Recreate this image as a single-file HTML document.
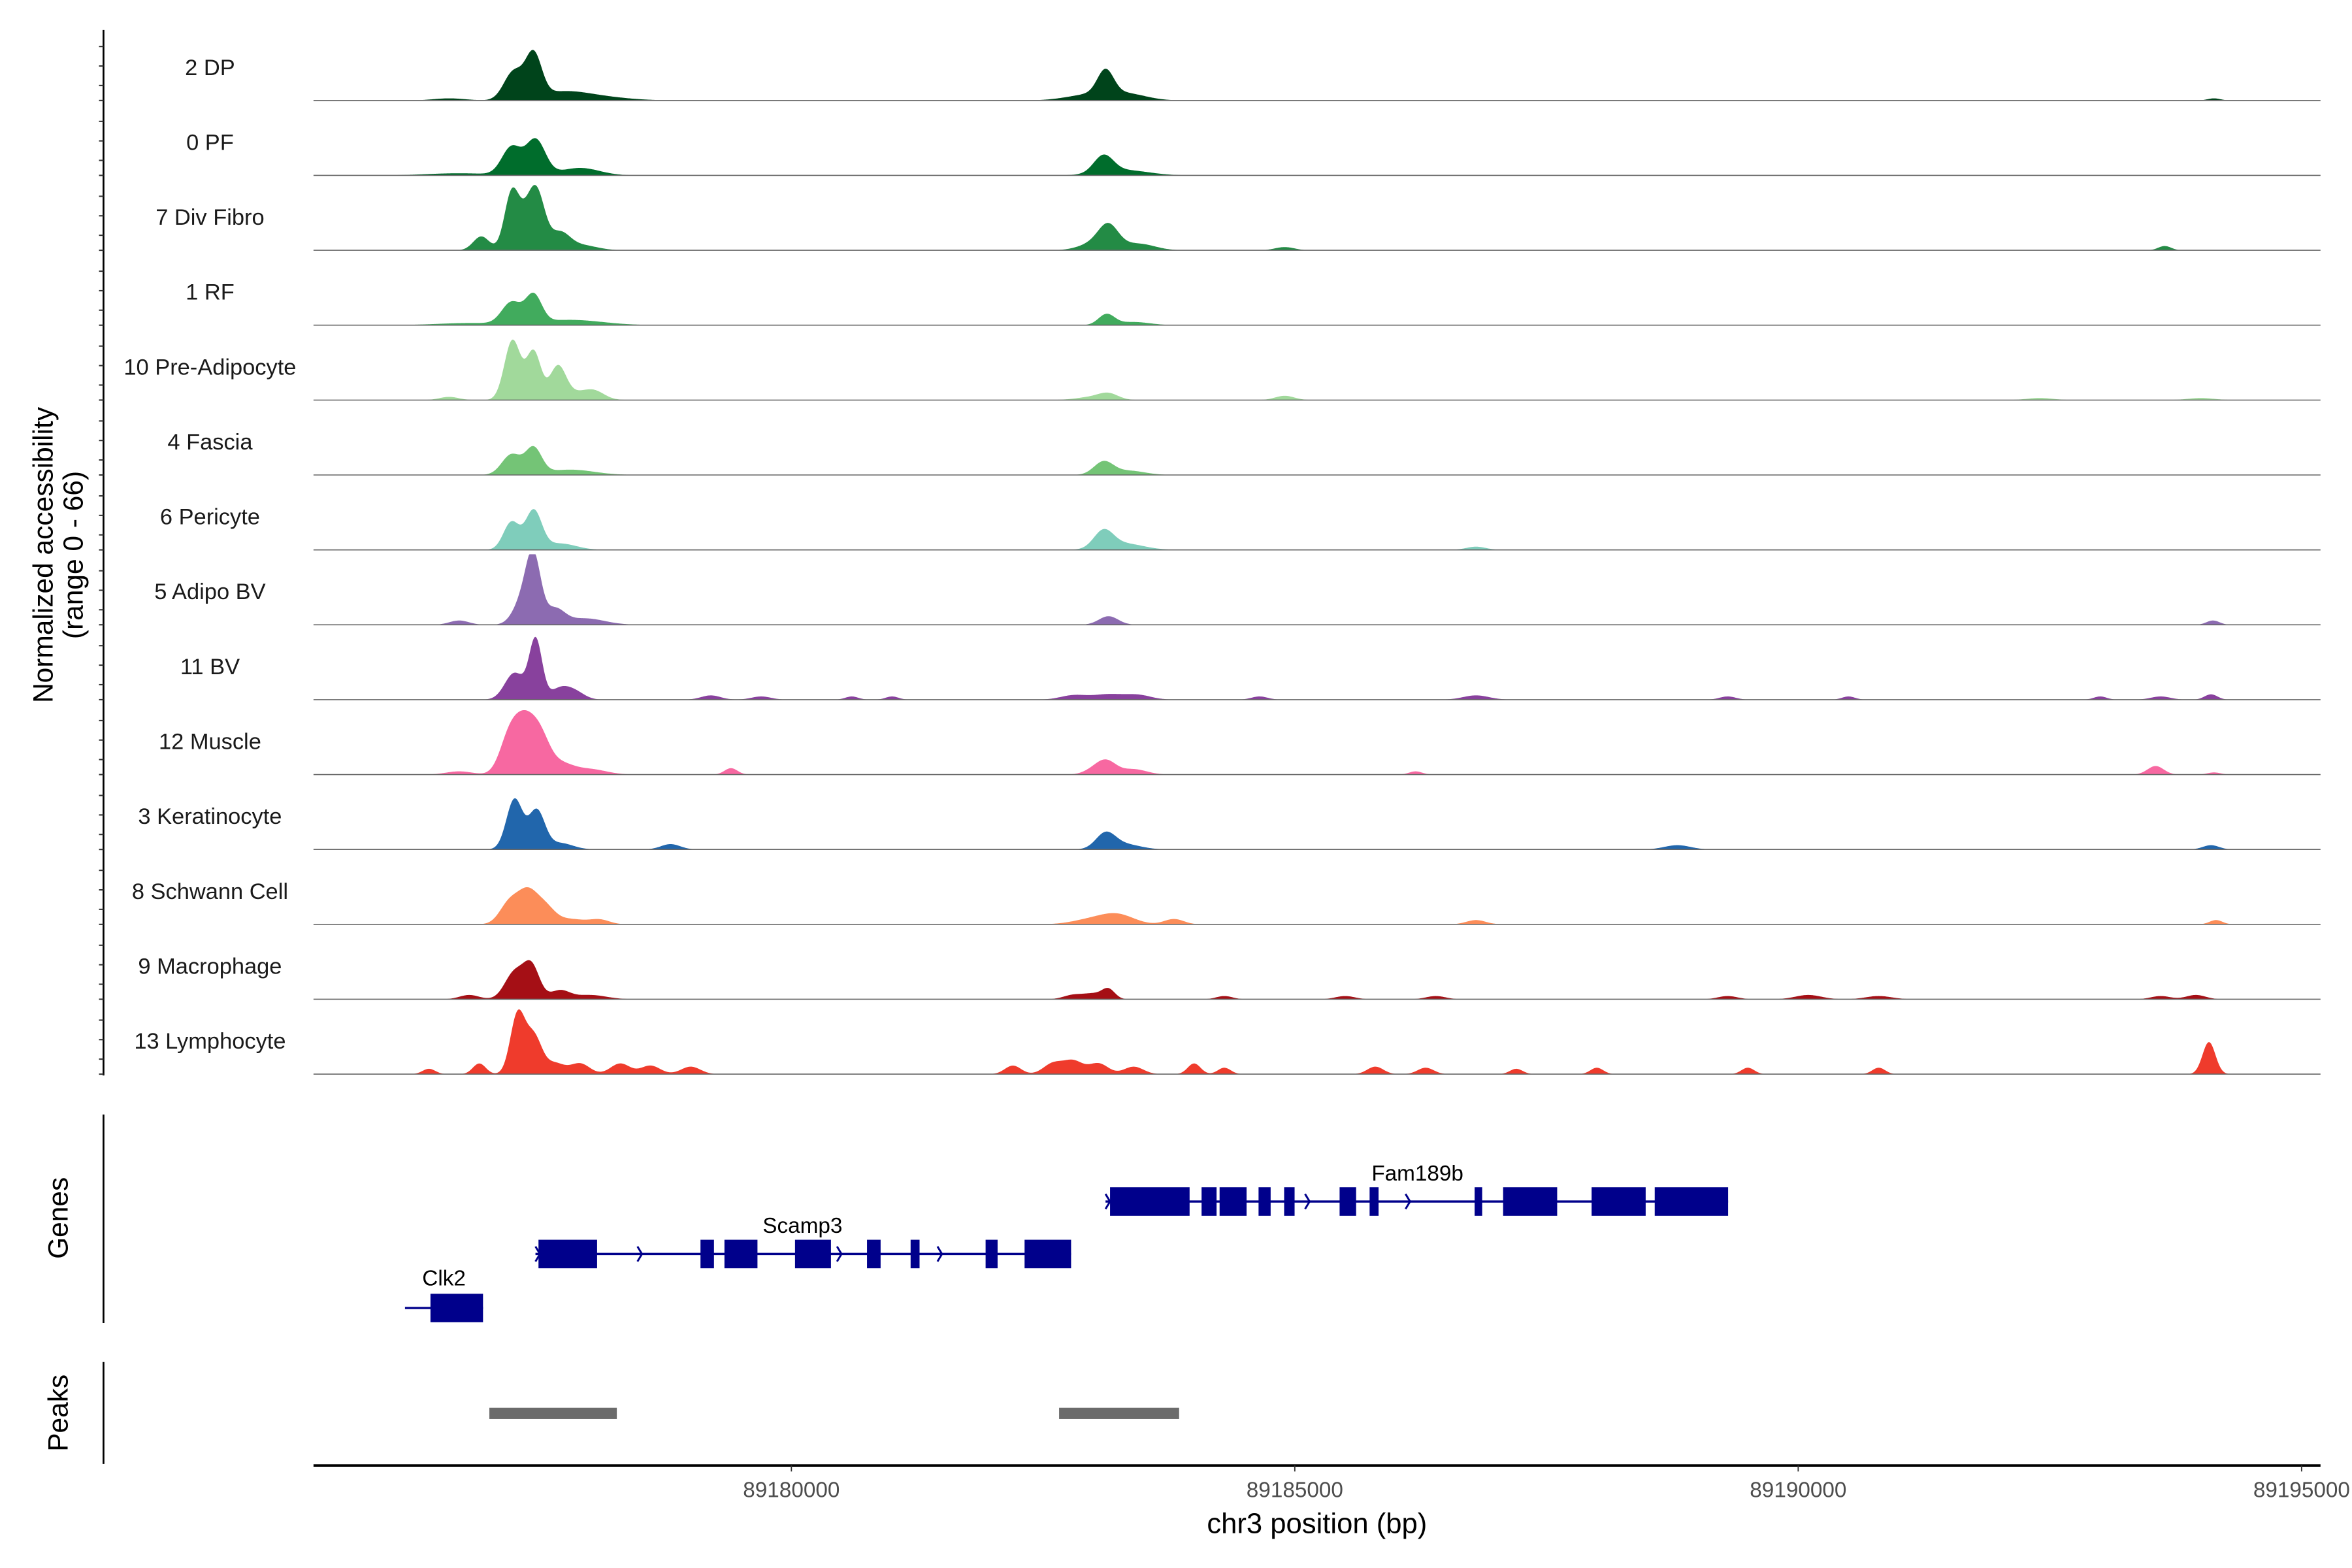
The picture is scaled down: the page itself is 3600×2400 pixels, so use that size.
<!DOCTYPE html>
<html><head><meta charset="utf-8"><style>
html,body{margin:0;padding:0;background:#fff}
svg{display:block;font-family:"Liberation Sans",Arial,sans-serif}
</style></head>
<body>
<svg id="chart" xmlns="http://www.w3.org/2000/svg" width="3600" height="2400" viewBox="0 0 1568 1045.33">
<g id="tracks"></g>
<g id="genes"></g>
<g id="peaks"></g>
<g id="axes"></g>
</svg>
<script>
const BASE = 89180000;
const trackNames = ["2 DP","0 PF","7 Div Fibro","1 RF","10 Pre-Adipocyte","4 Fascia","6 Pericyte","5 Adipo BV","11 BV","12 Muscle","3 Keratinocyte","8 Schwann Cell","9 Macrophage","13 Lymphocyte"];
const trackColors = ["#00441b","#006d2c","#238b45","#41ab5d","#a1d99b","#74c476","#7fcdbb","#8c6bb1","#88419d","#f768a1","#2166ac","#fc8d59","#a50f15","#ef3b2c"];
// peaks: [offset bp from 89180000, value (0-66), width bp]
const trackPeaks = [
 [[-3400,2,100],[-2760,26,60],[-2560,40,50],[-2300,6,150],[-2000,4,200],[3000,6,150],[3120,22,50],[3350,5,120],[14130,2,40]],
 [[-3300,2,200],[-2780,26,60],[-2540,33,60],[-2100,7,120],[3100,16,60],[3300,5,150]],
 [[-3080,13,50],[-2780,50,45],[-2620,30,60],[-2520,40,50],[-2300,15,60],[-2100,5,100],[3050,8,100],[3150,18,60],[3450,6,100],[4900,3,60],[13640,4,40]],
 [[-3200,2,200],[-2780,20,60],[-2560,26,50],[-2200,5,200],[3130,10,50],[3400,3,100]],
 [[-3400,3,60],[-2770,56,50],[-2560,45,45],[-2320,30,50],[-2100,7,100],[-1950,5,60],[3000,3,100],[3150,5,60],[4900,4,60],[12400,2,80],[14000,2,80]],
 [[-2780,19,60],[-2560,24,50],[-2200,5,150],[3100,12,60],[3350,4,100]],
 [[-2780,26,50],[-2560,36,50],[-2300,6,100],[3100,16,60],[3300,6,120],[6800,3,60]],
 [[-3300,4,60],[-2660,24,60],[-2560,55,45],[-2350,14,60],[-2050,6,120],[3150,8,60],[14120,4,40]],
 [[-2750,25,60],[-2540,56,40],[-2300,10,60],[-2150,7,60],[-800,4,60],[-300,3,60],[600,3,40],[1000,3,40],[2800,4,80],[3150,5,100],[3450,4,80],[4650,3,50],[6800,4,80],[9300,3,50],[10500,3,40],[13000,3,40],[13600,3,60],[14100,5,40]],
 [[-3300,3,80],[-2800,35,60],[-2650,40,60],[-2500,33,60],[-2300,10,80],[-2000,5,100],[-600,6,40],[3000,4,60],[3130,12,60],[3400,5,80],[6200,3,40],[13550,8,50],[14130,2,40]],
 [[-2750,47,50],[-2530,36,50],[-2300,6,80],[-1200,5,60],[3120,14,60],[3300,5,100],[8800,4,80],[14100,4,50]],
 [[-2800,20,60],[-2620,28,60],[-2450,15,60],[-2200,5,100],[-1900,4,60],[3000,5,120],[3250,8,100],[3800,5,60],[6800,4,60],[14150,4,40]],
 [[-3200,4,60],[-2750,25,60],[-2580,30,50],[-2300,8,60],[-2000,4,100],[2800,4,60],[3000,5,60],[3150,9,40],[4300,3,50],[5500,3,60],[6400,3,60],[9300,3,60],[10100,4,80],[10800,3,80],[13600,3,60],[13950,4,60]],
 [[-3600,5,40],[-3100,10,40],[-2720,55,45],[-2560,35,50],[-2350,10,60],[-2100,10,60],[-1700,10,60],[-1400,8,60],[-1000,7,60],[2200,8,50],[2600,10,60],[2800,12,60],[3050,10,60],[3400,7,60],[4000,10,40],[4300,6,40],[5800,7,50],[6300,6,50],[7200,5,40],[8000,6,40],[9500,6,40],[10800,6,40],[14080,30,40]]
];
const xTicks = [89180000, 89185000, 89190000, 89195000];
const geneNames = ["Clk2","Scamp3","Fam189b"];
const geneSpans = [[-3838,-3063],[-2542,2778],[3120,9304]];
const geneExons = [
 [[-3585,-3063]],
 [[-2512,-1930],[-903,-769],[-665,-337],[36,393],[751,886],[1184,1273],[1929,2048],[2316,2778]],
 [[3165,3955],[4074,4223],[4253,4521],[4640,4760],[4894,4998],[5445,5609],[5743,5832],[6786,6861],[7069,7606],[7948,8485],[8575,9304]]
];
const geneArrows = [[], [-2542,-1529,453,1451], [3120,5102,6100]];
const peakRegions = [[-3000,-1734],[2659,3851]];

const NS="http://www.w3.org/2000/svg";
const X0=209,X1=1547;
function xs(bp){return 527.6+(bp-BASE)/5000*335.6;}
function xo(off){return xs(BASE+off);}
function mk(tag,attrs,parent){const e=document.createElementNS(NS,tag);for(const k in attrs)e.setAttribute(k,attrs[k]);parent.appendChild(e);return e;}
const tracksG=document.getElementById('tracks');
const step=49.93, firstBase=67, trackH=47;
trackNames.forEach((name,i)=>{
  const base=firstBase+i*step;
  const g=mk('g',{},tracksG);
  
  
  let d='M'+X0+','+base;
  const pk=trackPeaks[i];
  for(let x=X0;x<=X1;x+=0.5){
    let v=0;
    for(const p of pk){const bx=xo(p[0]);const sw=p[2]*1.6/5000*335.6;const t=(x-bx)/sw;if(Math.abs(t)<4)v+=p[1]*Math.exp(-t*t/2);}
    v=Math.min(v,66);
    d+=' L'+x.toFixed(1)+','+(base-v/66*trackH).toFixed(2);
  }
  d+=' L'+X1+','+base+' Z';
  const a=mk('path',{d:d,fill:trackColors[i],stroke:'none'},g);
  
  
  const bl=mk('line',{x1:X0,x2:X1,y1:base,y2:base,stroke:'#666',"stroke-width":0.7},g);
  
  
  const t=mk('text',{x:140,y:base-17,"text-anchor":"middle","font-size":15,fill:'#1a1a1a'},g);
  t.textContent=name;
  
  
});
// genes
const genesG=document.getElementById('genes');
const geneY=[872,836,801];
const geneLabelX=[296,535,945];
const geneLabelY=[857,822,787];
geneNames.forEach((n,i)=>{
  const g=mk('g',{},genesG);
  
  
  const y=geneY[i];
  mk('line',{x1:xo(geneSpans[i][0]),x2:xo(geneSpans[i][1]),y1:y,y2:y,stroke:'#00008b',"stroke-width":1.5},g);
  geneExons[i].forEach(e=>{
    const r=mk('rect',{x:xo(e[0]),y:y-9.5,width:xo(e[1])-xo(e[0]),height:19,fill:'#00008b'},g);
    
    
  });
  geneArrows[i].forEach(a=>{
    const x=xo(a);
    mk('path',{d:`M${x},${y-5} L${x+3},${y} L${x},${y+5}`,fill:'none',stroke:'#00008b',"stroke-width":1.3},g);
  });
  const t=mk('text',{x:geneLabelX[i],y:geneLabelY[i],"text-anchor":"middle","font-size":14.5,fill:'#000'},g);
  t.textContent=n;
  
  
});
// peaks
const peaksG=document.getElementById('peaks');
peakRegions.forEach(p=>{
  const r=mk('rect',{x:xo(p[0]),y:938.5,width:xo(p[1])-xo(p[0]),height:7.5,fill:'#6b6b6b'},peaksG);
  
  
});
// axes
const ax=document.getElementById('axes');
mk('line',{x1:69,x2:69,y1:20,y2:717,stroke:'#000',"stroke-width":1.2},ax);
for(let i=0;i<trackNames.length;i++){
  const base=firstBase+i*step;
  [0,10,23,36].forEach(o=>{mk('line',{x1:66,x2:69,y1:base-o,y2:base-o,stroke:'#333',"stroke-width":0.9},ax);});
}
mk('line',{x1:69,x2:69,y1:743,y2:882,stroke:'#000',"stroke-width":1.2},ax);
mk('line',{x1:69,x2:69,y1:908,y2:976,stroke:'#000',"stroke-width":1.2},ax);
mk('line',{x1:X0,x2:X1,y1:977,y2:977,stroke:'#000',"stroke-width":1.6},ax);
xTicks.forEach(v=>{
  const x=xs(v);
  mk('line',{x1:x,x2:x,y1:977,y2:981,stroke:'#333',"stroke-width":0.8},ax);
  const t=mk('text',{x:x,y:998,"text-anchor":"middle","font-size":14.5,fill:'#4d4d4d'},ax);
  t.textContent=String(v);
  
  
});
const xt=mk('text',{x:878,y:1022,"text-anchor":"middle","font-size":19,fill:'#000'},ax);
xt.textContent='chr3 position (bp)';


const yt=mk('text',{transform:'translate(35,370) rotate(-90)',"text-anchor":"middle","font-size":18.5,fill:'#000'},ax);
yt.textContent='Normalized accessibility';


const yt2=mk('text',{transform:'translate(55,370) rotate(-90)',"text-anchor":"middle","font-size":18.5,fill:'#000'},ax);
yt2.textContent='(range 0 - 66)';


const gt=mk('text',{transform:'translate(45,812) rotate(-90)',"text-anchor":"middle","font-size":18.5,fill:'#000'},ax);
gt.textContent='Genes';


const pt=mk('text',{transform:'translate(45,942) rotate(-90)',"text-anchor":"middle","font-size":18.5,fill:'#000'},ax);
pt.textContent='Peaks';


</script>
</body></html>
